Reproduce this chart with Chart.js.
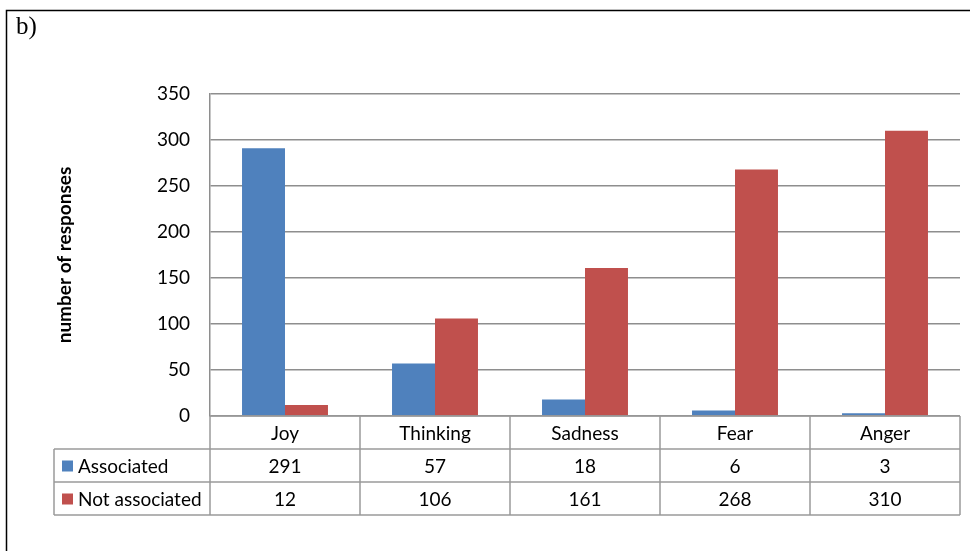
<!DOCTYPE html>
<html>
<head>
<meta charset="utf-8">
<script src="https://cdn.jsdelivr.net/npm/chart.js@4.4.1/dist/chart.umd.min.js"></script>
<style>
  html, body { margin: 0; padding: 0; background: #fff; }
  #wrap { width: 970px; height: 551px; position: relative; }
</style>
</head>
<body>
<div id="wrap"><canvas id="chart" width="970" height="551"></canvas></div>
<script>
const categories = ['Joy', 'Thinking', 'Sadness', 'Fear', 'Anger'];
const seriesNames = ['Associated', 'Not associated'];
const associated = [291, 57, 18, 6, 3];
const notAssociated = [12, 106, 161, 268, 310];
const yMax = 350;
const yStep = 50;

const BLUE = '#4F81BD';
const RED = '#C0504D';
const GRID = '#8e8e8e';
const TABLE_LINE = '#9a9a9a';
const FONT = 'Lato, "Liberation Sans", sans-serif';

// frame + "b)" label
const framePlugin = {
  id: 'frame',
  afterDraw(chart) {
    const ctx = chart.ctx;
    ctx.save();
    ctx.strokeStyle = '#000';
    ctx.lineWidth = 1.5;
    ctx.beginPath();
    ctx.moveTo(970, 10.5);
    ctx.lineTo(6.5, 10.5);
    ctx.lineTo(6.5, 551);
    ctx.stroke();
    ctx.fillStyle = '#000';
    ctx.font = '25px "Liberation Serif", serif';
    ctx.textBaseline = 'alphabetic';
    ctx.fillText('b)', 16, 34);
    ctx.restore();
  }
};

// data table under the plot, columns follow the x scale
const tablePlugin = {
  id: 'dataTable',
  afterDraw(chart) {
    const ctx = chart.ctx;
    const x = chart.scales.x;
    const area = chart.chartArea;
    const n = categories.length;
    const colW = (area.right - area.left) / n;
    const top = area.bottom;
    const rowH = 33;
    const legendLeft = 54;
    const rows = [chart.data.datasets[0], chart.data.datasets[1]];

    ctx.save();
    ctx.strokeStyle = TABLE_LINE;
    ctx.lineWidth = 1.5;
    ctx.beginPath();
    // horizontal lines
    ctx.moveTo(area.left, top); ctx.lineTo(area.right, top);
    for (let r = 1; r <= 3; r++) {
      const y = top + r * rowH;
      ctx.moveTo(legendLeft, y); ctx.lineTo(area.right, y);
    }
    // vertical lines
    for (let i = 0; i <= n; i++) {
      const xx = area.left + i * colW;
      ctx.moveTo(xx, top); ctx.lineTo(xx, top + 3 * rowH);
    }
    ctx.moveTo(legendLeft, top + rowH); ctx.lineTo(legendLeft, top + 3 * rowH);
    ctx.stroke();

    ctx.fillStyle = '#000';
    ctx.font = '19px ' + FONT;
    ctx.textBaseline = 'middle';
    ctx.textAlign = 'center';
    categories.forEach((c, i) => {
      ctx.fillText(c, x.getPixelForValue(i), top + rowH / 2 + 1);
    });
    rows.forEach((ds, r) => {
      const cy = top + (r + 1) * rowH + rowH / 2 + 1;
      ctx.textAlign = 'center';
      ds.data.forEach((v, i) => {
        ctx.fillText(String(v), x.getPixelForValue(i), cy);
      });
      ctx.fillStyle = ds.backgroundColor;
      ctx.fillRect(62, cy - 6, 11, 11);
      ctx.fillStyle = '#000';
      ctx.textAlign = 'left';
      ctx.fillText(ds.label, 78, cy);
    });
    ctx.restore();
  }
};

new Chart(document.getElementById('chart'), {
  type: 'bar',
  data: {
    labels: categories,
    datasets: [
      { label: seriesNames[0], data: associated, backgroundColor: BLUE },
      { label: seriesNames[1], data: notAssociated, backgroundColor: RED },
    ],
  },
  options: {
    responsive: false,
    animation: false,
    devicePixelRatio: 1,
    layout: { padding: { top: 94, right: 10, bottom: 135, left: 0 } },
    datasets: { bar: { categoryPercentage: 0.573, barPercentage: 1 } },
    plugins: { legend: { display: false }, tooltip: { enabled: false } },
    scales: {
      x: { display: false },
      y: {
        min: 0,
        max: yMax,
        afterFit(scale) { scale.width = 210; },
        ticks: { stepSize: yStep, padding: 20, color: '#000', font: { family: FONT, size: 19 } },
        grid: { color: GRID, lineWidth: 1.5, drawTicks: false },
        border: { color: GRID, width: 1.5 },
        title: {
          display: true,
          text: 'number of responses',
          color: '#000',
          padding: { top: 53, bottom: 0 },
          font: { family: FONT, size: 19, weight: 'bold' },
        },
      },
    },
  },
  plugins: [framePlugin, tablePlugin],
});
</script>
</body>
</html>
